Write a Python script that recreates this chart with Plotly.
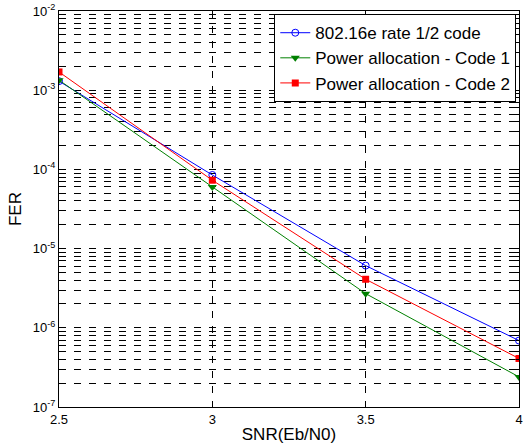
import plotly.graph_objects as go

snr = [2.5, 3.0, 3.5, 4.0]
fer_80216e = [1.3e-3, 8.5e-5, 6.1e-6, 6.9e-7]
fer_code1 = [1.34e-3, 6.0e-5, 2.7e-6, 2.4e-7]
fer_code2 = [1.7e-3, 7.3e-5, 4.1e-6, 4.1e-7]
names = ["802.16e rate 1/2 code", "Power allocation - Code 1", "Power allocation - Code 2"]
x_ticks = [2.5, 3, 3.5, 4]
x_ticktext = ["2.5", "3", "3.5", "4"]
y_exps = [-7, -6, -5, -4, -3, -2]

fig = go.Figure()
fig.add_trace(go.Scatter(x=snr, y=fer_80216e, name=names[0], mode="lines+markers",
                         line=dict(color="#0000ff", width=1),
                         marker=dict(symbol="circle-open", size=7, color="#0000ff", line=dict(width=1))))
fig.add_trace(go.Scatter(x=snr, y=fer_code1, name=names[1], mode="lines+markers",
                         line=dict(color="#008000", width=1),
                         marker=dict(symbol="triangle-down", size=8, color="#008000")))
fig.add_trace(go.Scatter(x=snr, y=fer_code2, name=names[2], mode="lines+markers",
                         line=dict(color="#ff0000", width=1),
                         marker=dict(symbol="square", size=7, color="#ff0000")))

fig.update_layout(
    width=526, height=446,
    margin=dict(l=59, r=7, t=11, b=39),
    paper_bgcolor="white", plot_bgcolor="white",
    font=dict(family="Liberation Sans, Arial, sans-serif", size=13, color="black"),
    legend=dict(x=0.468, y=0.992, xanchor="left", yanchor="top",
                bgcolor="white", bordercolor="black", borderwidth=1,
                font=dict(size=17), tracegroupgap=0, itemwidth=30),
    showlegend=True,
)
fig.update_xaxes(range=[2.5, 4], tickvals=x_ticks, ticktext=x_ticktext,
                 ticks="inside", ticklen=5, tickcolor="black", automargin=False,
                 tickfont=dict(size=13),
                 showline=True, linecolor="black", linewidth=1, mirror="ticks",
                 showgrid=True, gridcolor="black", griddash="7px,8px", gridwidth=1,
                 zeroline=False,
                 title=dict(text="SNR(Eb/N0)", font=dict(size=17), standoff=2))
fig.update_yaxes(type="log", range=[-7, -2],
                 tickvals=[10.0 ** e for e in y_exps],
                 ticktext=["10<sup>%d</sup>" % e for e in y_exps],
                 ticks="inside", ticklen=5, tickcolor="black", automargin=False,
                 tickfont=dict(size=13),
                 showline=True, linecolor="black", linewidth=1, mirror="ticks",
                 showgrid=True, gridcolor="black", griddash="7px,8px", gridwidth=1,
                 zeroline=False,
                 minor=dict(tickvals=[m * 10.0 ** e for e in y_exps[:-1] for m in range(2, 10)],
                            ticks="inside", ticklen=3, tickcolor="black",
                            showgrid=True, gridcolor="black", griddash="7px,8px", gridwidth=1),
                 title=dict(text="FER", font=dict(size=17), standoff=6))

fig.write_html("out.html", config={"displayModeBar": False},
               post_script="document.body.style.margin='0';")
